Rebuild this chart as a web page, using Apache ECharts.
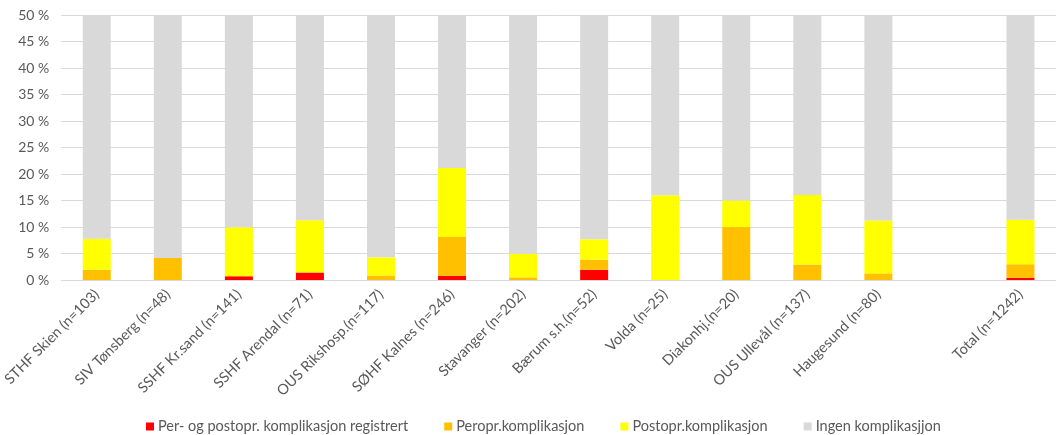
<!DOCTYPE html>
<html>
<head>
<meta charset="utf-8">
<script src="https://cdn.jsdelivr.net/npm/echarts@6/dist/echarts.min.js"></script>
<style>
html,body{margin:0;padding:0;background:#fff;}
#c{width:1056px;height:435px;}
</style>
</head>
<body>
<div id="c"></div>
<script>
const categories = ["STHF Skien (n=103)", "SIV Tønsberg (n=48)", "SSHF Kr.sand (n=141)", "SSHF Arendal (n=71)", "OUS Rikshosp.(n=117)", "SØHF Kalnes (n=246)", "Stavanger (n=202)", "Bærum s.h.(n=52)", "Volda (n=25)", "Diakonhj.(n=20)", "OUS Ullevål (n=137)", "Haugesund (n=80)", "", "Total (n=1242)"];
const perPost = [0, 0, 0.71, 1.41, 0, 0.81, 0, 1.92, 0, 0, 0, 0, null, 0.40];
const peropr = [1.94, 4.17, 0, 0, 0.85, 7.32, 0.50, 1.92, 0, 10.00, 2.92, 1.25, null, 2.58];
const postopr = [5.83, 0, 9.22, 9.86, 3.42, 13.01, 4.46, 3.85, 16.00, 5.00, 13.14, 10.00, null, 8.37];
const ingen = [92.23, 95.83, 90.07, 88.73, 95.73, 78.86, 95.04, 92.31, 84.00, 85.00, 83.94, 88.75, null, 88.65];
const seriesNames = ["Per- og postopr. komplikasjon registrert", "Peropr.komplikasjon", "Postopr.komplikasjon", "Ingen komplikasjjon"];
const yTicks = [0, 5, 10, 15, 20, 25, 30, 35, 40, 45, 50];

const colors = ["#FF0000", "#FFC000", "#FFFF00", "#D9D9D9"];
const dataSets = [perPost, peropr, postopr, ingen];
const FONT = "Lato";

const chart = echarts.init(document.getElementById('c'), null, {renderer: 'canvas'});
chart.setOption({
  animation: false,
  color: colors,
  grid: {left: 58, right: -6, top: 15, bottom: 155, containLabel: false},
  legend: {
    top: 414,
    left: 141,
    itemWidth: 8, itemHeight: 8, itemGap: 36,
    icon: 'rect',
    textStyle: {color: '#595959', fontSize: 14.5, fontFamily: FONT, padding: [0, 0, 0, -1]},
    data: seriesNames
  },
  xAxis: {
    type: 'category',
    data: categories,
    axisLine: {show: true, lineStyle: {color: '#D9D9D9', width: 1}},
    axisTick: {show: false},
    axisLabel: {rotate: 45, interval: 0, color: '#595959', fontSize: 14.5, fontFamily: FONT, margin: 12}
  },
  yAxis: {
    type: 'value',
    min: yTicks[0], max: yTicks[yTicks.length - 1], interval: 5,
    axisLine: {show: false},
    axisTick: {show: false},
    splitLine: {lineStyle: {color: '#D9D9D9', width: 1}},
    axisLabel: {formatter: v => v + ' %', color: '#595959', fontSize: 14, fontFamily: FONT, margin: 12}
  },
  series: dataSets.map((d, i) => ({
    name: seriesNames[i],
    type: 'bar',
    stack: 'total',
    data: d,
    barWidth: 28,
    itemStyle: {color: colors[i]},
    clip: true
  }))
});
</script>
</body>
</html>
